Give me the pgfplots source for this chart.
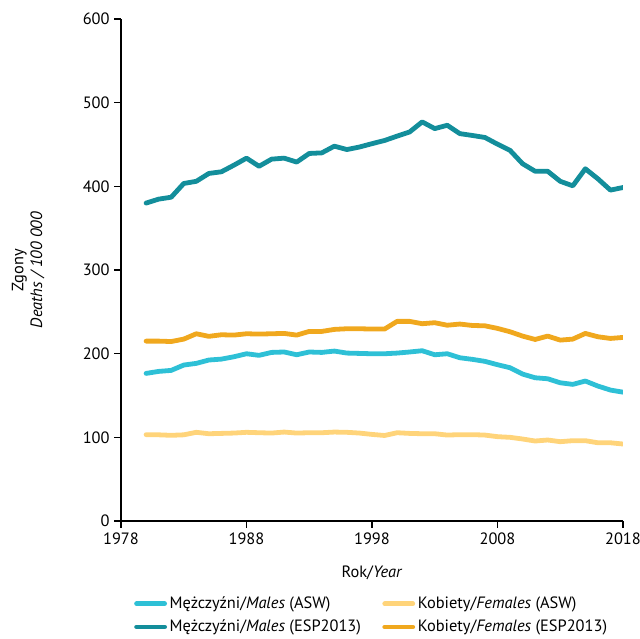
\documentclass[border=0pt]{standalone}
\usepackage{fontspec}
\setmainfont{PT Sans}
\usepackage{pgfplots}
\pgfplotsset{compat=1.18}
\definecolor{lteal}{HTML}{2EC0D6}
\definecolor{dteal}{HTML}{138E9B}
\definecolor{orng}{HTML}{F0A81E}
\definecolor{lyel}{HTML}{FFD47A}
\begin{document}
\begin{tikzpicture}
\begin{axis}[
  scale only axis, width=376.5pt, height=376.5pt,
  xmin=1978, xmax=2018, ymin=0, ymax=600,
  xtick={1978,1988,1998,2008,2018}, ytick={0,100,...,600},
  axis x line*=bottom, axis y line*=left,
  axis line style={line width=1pt, -},
  tick style={line width=1pt, black},
  tick align=outside, major tick length=5pt,
  xticklabel style={/pgf/number format/1000 sep={}},
  /pgf/number format/assume math mode=true,
  ticklabel style={font=\fontsize{12.3}{14}\selectfont},
  label style={font=\fontsize{12.3}{14}\selectfont},
  xlabel={Rok/\textit{Year}},
  xlabel style={at={(axis description cs:0.5,-0.104)}, anchor=center},
  ylabel={Zgony\\\textit{Deaths / 100 000}},
  ylabel style={align=center, at={(axis description cs:-0.185,0.5)}, anchor=center},
  legend columns=2,
  legend style={draw=none, fill=none, at={(axis description cs:0.5,-0.14)}, anchor=north,
    font=\fontsize{12.3}{14}\selectfont, /tikz/every even column/.append style={column sep=14pt},
    row sep=3pt},
  legend cell align=left,
  legend image code/.code={\draw[#1, line cap=round] (0pt,0pt) -- (21pt,0pt);},
  every axis plot/.append style={line width=3.6pt, line join=round, line cap=round, no markers},
]
\addplot[lteal] coordinates {
(1980,176.4)(1981,178.8)(1982,180)(1983,186.4)(1984,188.4)(1985,192.4)(1986,193.5)(1987,196.3)(1988,199.9)(1989,198)
(1990,201.5)(1991,202)(1992,198.7)(1993,202)(1994,201.5)(1995,203.1)(1996,200.7)(1997,200.3)(1998,199.9)(1999,199.9)
(2000,200.7)(2001,202)(2002,203.5)(2003,198.7)(2004,199.9)(2005,195.1)(2006,193.2)(2007,190.8)(2008,186.8)(2009,183.2)
(2010,175.6)(2011,171.2)(2012,170)(2013,165.2)(2014,163.3)(2015,167.3)(2016,161.3)(2017,156.5)(2018,154)};
\addlegendentry{Mężczyźni/\textit{Males} (ASW)}
\addplot[lyel] coordinates {
(1980,103.2)(1981,103)(1982,102.4)(1983,103)(1984,106)(1985,104.3)(1986,104.7)(1987,105.1)(1988,106)(1989,105.5)
(1990,105.1)(1991,106.3)(1992,105.1)(1993,105.5)(1994,105.5)(1995,106.3)(1996,106)(1997,105.1)(1998,103.5)(1999,102.2)
(2000,105.5)(2001,104.7)(2002,104.3)(2003,104.3)(2004,102.7)(2005,103.2)(2006,103.2)(2007,102.7)(2008,100.8)(2009,100)
(2010,98)(2011,95.6)(2012,96.8)(2013,94.8)(2014,96)(2015,96)(2016,93.5)(2017,93.5)(2018,92)};
\addlegendentry{Kobiety/\textit{Females} (ASW)}
\addplot[dteal] coordinates {
(1980,380)(1981,384.7)(1982,387)(1983,403.4)(1984,406)(1985,415.4)(1986,417.4)(1987,425.3)(1988,433.7)(1989,424)
(1990,432.5)(1991,433.7)(1992,429)(1993,439.3)(1994,440)(1995,448)(1996,444)(1997,447)(1998,451)(1999,454.8)
(2000,460)(2001,465)(2002,477)(2003,469)(2004,473)(2005,463)(2006,460.8)(2007,458.4)(2008,450.4)(2009,443)
(2010,427)(2011,418)(2012,418)(2013,406)(2014,400.6)(2015,421)(2016,409)(2017,395.5)(2018,398.6)};
\addlegendentry{Mężczyźni/\textit{Males} (ESP2013)}
\addplot[orng] coordinates {
(1980,215)(1981,215)(1982,214.5)(1983,217.4)(1984,223.8)(1985,220.7)(1986,222.6)(1987,222.2)(1988,223.8)(1989,223.4)
(1990,223.8)(1991,224.2)(1992,222.2)(1993,226.6)(1994,226.6)(1995,229)(1996,229.8)(1997,229.8)(1998,229.4)(1999,229.4)
(2000,238.6)(2001,238.6)(2002,235.8)(2003,237)(2004,234)(2005,235.4)(2006,233.7)(2007,233.3)(2008,230.2)(2009,226.2)
(2010,221)(2011,217)(2012,221)(2013,216.2)(2014,217.4)(2015,224.2)(2016,220.2)(2017,218.2)(2018,219.4)};
\addlegendentry{Kobiety/\textit{Females} (ESP2013)}
\end{axis}
\pgfresetboundingbox
\path (current axis.south west) ++(-90.75pt,-88.5pt) rectangle ++(480pt,479.25pt);
\end{tikzpicture}
\end{document}
